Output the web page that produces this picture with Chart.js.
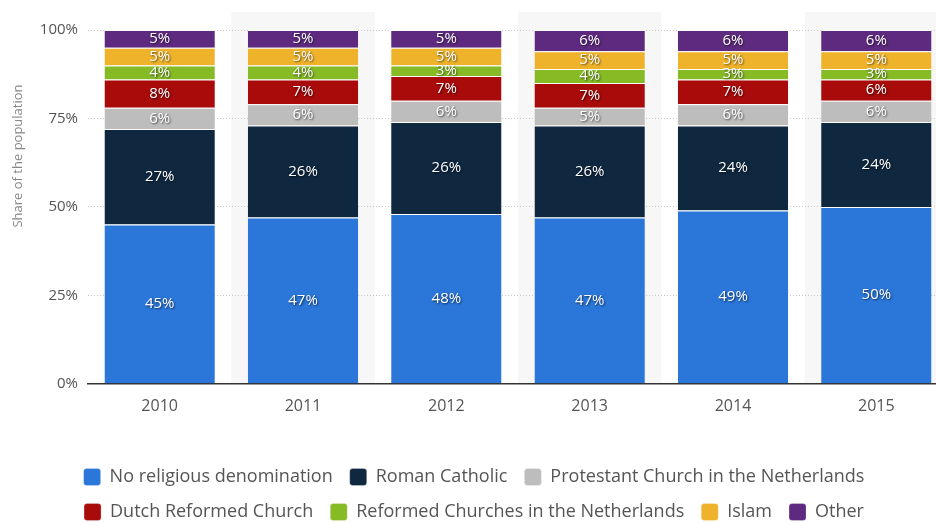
<!DOCTYPE html>
<html>
<head>
<meta charset="utf-8">
<script src="https://cdn.jsdelivr.net/npm/chart.js@4.4.1/dist/chart.umd.min.js"></script>
<style>
  html, body { margin: 0; padding: 0; background: #fff; overflow: hidden; }
  #wrap { width: 950px; height: 523px; position: relative; }
</style>
</head>
<body>
<div id="wrap"><canvas id="religionChart"></canvas></div>
<script>
const years = ['2010', '2011', '2012', '2013', '2014', '2015'];
const yTicks = [0, 25, 50, 75, 100];

const noReligion = [45, 47, 48, 47, 49, 50];
const romanCatholic = [27, 26, 26, 26, 24, 24];
const protestantChurch = [6, 6, 6, 5, 6, 6];
const dutchReformed = [8, 7, 7, 7, 7, 6];
const reformedChurches = [4, 4, 3, 4, 3, 3];
const islam = [5, 5, 5, 5, 5, 5];
const other = [5, 5, 5, 6, 6, 6];

const colors = {
    blue: '#2a76d9',
    navy: '#0f2840',
    gray: '#bdbdbd',
    red: '#a90b0b',
    green: '#86bb26',
    yellow: '#efb32b',
    purple: '#5e2a7f',
    text: '#555555',
    grid: '#c8c8c8',
    shade: '#f7f7f7'
};

const fontFamily = "'Open Sans', Roboto, sans-serif";

function makeSet(label, data, color) {
    return {
        label: label,
        data: data,
        backgroundColor: color,
        borderColor: '#ffffff',
        borderWidth: { top: 1, bottom: 0, left: 0, right: 0 },
        borderSkipped: false,
        categoryPercentage: 1,
        barPercentage: 0.77
    };
}

// shaded background behind every other column
const columnShade = {
    id: 'columnShade',
    beforeDraw(chart) {
        const { ctx, chartArea, scales } = chart;
        const step = scales.x.width / years.length;
        ctx.save();
        ctx.fillStyle = colors.shade;
        years.forEach((y, i) => {
            if (i % 2 === 1) {
                const cx = scales.x.getPixelForValue(i);
                ctx.fillRect(cx - step / 2, chartArea.top - 18, step, chartArea.bottom - chartArea.top + 18);
            }
        });
        // axis title, sits a bit above the middle of the plot
        ctx.fillStyle = '#888888';
        ctx.font = '13px ' + fontFamily;
        ctx.textAlign = 'center';
        ctx.textBaseline = 'middle';
        ctx.translate(18, 156);
        ctx.rotate(-Math.PI / 2);
        ctx.fillText('Share of the population', 0, 0);
        ctx.restore();
    }
};

// white value labels in the middle of each segment
const segmentLabels = {
    id: 'segmentLabels',
    afterDatasetsDraw(chart) {
        const ctx = chart.ctx;
        ctx.save();
        ctx.font = '15px ' + fontFamily;
        ctx.fillStyle = '#ffffff';
        ctx.textAlign = 'center';
        ctx.textBaseline = 'middle';
        ctx.shadowColor = 'rgba(0,0,0,0.65)';
        ctx.shadowBlur = 2;
        ctx.shadowOffsetX = 1;
        ctx.shadowOffsetY = 1;
        chart.data.datasets.forEach((ds, i) => {
            const meta = chart.getDatasetMeta(i);
            meta.data.forEach((bar, j) => {
                const mid = (bar.y + bar.base) / 2;
                ctx.fillText(ds.data[j] + '%', bar.x, mid);
            });
        });
        ctx.restore();
    }
};

new Chart(document.getElementById('religionChart'), {
    type: 'bar',
    data: {
        labels: years,
        datasets: [
            makeSet('No religious denomination', noReligion, colors.blue),
            makeSet('Roman Catholic', romanCatholic, colors.navy),
            makeSet('Protestant Church in the Netherlands', protestantChurch, colors.gray),
            makeSet('Dutch Reformed Church', dutchReformed, colors.red),
            makeSet('Reformed Churches in the Netherlands', reformedChurches, colors.green),
            makeSet('Islam', islam, colors.yellow),
            makeSet('Other', other, colors.purple)
        ]
    },
    options: {
        responsive: true,
        maintainAspectRatio: false,
        animation: false,
        layout: { padding: { top: 30, right: 2, left: 0, bottom: -8 } },
        plugins: {
            legend: {
                position: 'bottom',
                labels: {
                    boxWidth: 17,
                    boxHeight: 17,
                    padding: 17,
                    color: colors.text,
                    font: { family: fontFamily, size: 18 },
                    useBorderRadius: true,
                    borderRadius: 3
                }
            },
            tooltip: { enabled: false }
        },
        scales: {
            x: {
                stacked: true,
                grid: { display: false },
                border: { display: true, color: '#333333', width: 1.5 },
                ticks: { color: colors.text, padding: 5, font: { family: fontFamily, size: 16 } },
                afterFit: (scale) => { scale.height += 30; }
            },
            y: {
                stacked: true,
                min: 0,
                max: 100,
                afterBuildTicks: (scale) => { scale.ticks = yTicks.map(v => ({ value: v })); },
                afterFit: (scale) => { scale.width = 88; },
                grid: { color: colors.grid, drawTicks: false, lineWidth: 1 },
                border: { display: false, dash: [1, 2] },
                ticks: {
                    color: colors.text,
                    padding: 10,
                    font: { family: fontFamily, size: 15 },
                    callback: (v) => v + '%'
                }
            }
        }
    },
    plugins: [columnShade, segmentLabels]
});
</script>
</body>
</html>
